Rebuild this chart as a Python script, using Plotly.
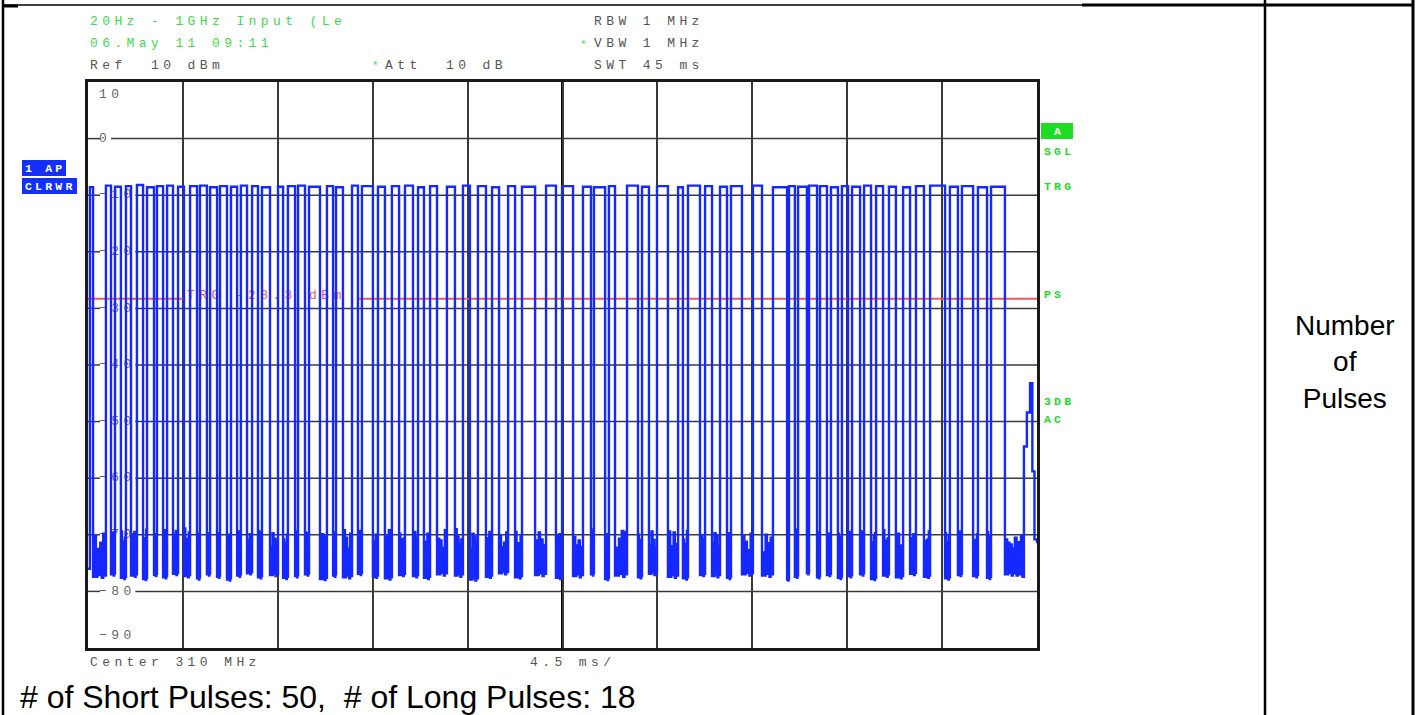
import plotly.graph_objects as go

# ---------------- data ----------------
# time axis: 10 div x 4.5 ms = 45 ms sweep ; level axis in dBm
rise_ms = [0.09, 0.85, 1.28, 1.80, 2.32, 2.80, 3.27, 3.75, 4.27, 4.84,
           5.31, 5.79, 6.26, 6.78, 7.25, 7.78, 8.25, 9.01, 9.48, 9.96,
           10.48, 11.33, 11.76, 12.52, 12.99, 13.75, 14.41, 15.03, 15.65, 16.22,
           17.02, 17.78, 18.49, 19.16, 19.92, 20.58, 21.72, 22.48, 23.47, 23.99,
           24.70, 25.56, 26.27, 26.98, 27.98, 28.45, 29.26, 29.97, 30.49, 31.53,
           32.48, 33.24, 33.67, 34.19, 34.71, 35.23, 35.75, 36.23, 36.80, 37.37,
           37.98, 38.65, 39.26, 39.93, 40.87, 41.44, 42.20, 42.82]
fall_ms = [0.24, 1.09, 1.56, 2.04, 2.61, 3.13, 3.56, 4.03, 4.55, 5.17,
           5.64, 6.12, 6.59, 7.07, 7.54, 8.06, 8.63, 9.25, 9.82, 10.29,
           11.00, 11.62, 12.09, 12.80, 13.51, 14.08, 14.75, 15.41, 15.93, 16.55,
           17.40, 18.11, 18.87, 19.49, 20.25, 21.20, 22.19, 23.00, 23.85, 24.52,
           24.99, 26.08, 26.60, 27.50, 28.21, 29.02, 29.59, 30.30, 31.01, 31.96,
           33.15, 33.52, 34.09, 34.57, 35.04, 35.56, 36.04, 36.61, 37.13, 37.70,
           38.31, 38.98, 39.64, 40.64, 41.25, 41.97, 42.63, 43.48]
top_dbm = [-8.6, -8.3, -8.5, -8.4, -8.2, -8.6, -8.4, -8.3, -8.5, -8.4,
           -8.3, -8.6, -8.4, -8.5, -8.3, -8.4, -8.6, -8.5, -8.4, -8.3,
           -8.5, -8.4, -8.6, -8.3, -8.4, -8.5, -8.4, -8.3, -8.6, -8.4,
           -8.5, -8.3, -8.4, -8.6, -8.4, -8.5, -8.3, -8.4, -8.5, -8.6,
           -8.4, -8.3, -8.5, -8.4, -8.6, -8.3, -8.4, -8.5, -8.4, -8.3,
           -8.6, -8.4, -8.5, -8.3, -8.4, -8.6, -8.4, -8.5, -8.3, -8.4,
           -8.5, -8.6, -8.4, -8.3, -8.5, -8.4, -8.6, -8.5]
noise_peak_a = [-70.2, -71.8, -69.4, -72.0, -70.6, -69.9, -71.3, -70.0, -68.9, -72.4,
                -71.1, -69.7, -72.8, -70.5, -71.6, -69.3, -72.2, -70.8, -71.4, -69.6,
                -72.6, -70.9, -69.2, -71.7, -73.0, -70.3, -69.8, -72.1, -71.2, -70.7,
                -69.0, -72.5, -71.9, -70.1, -69.5, -71.0, -72.7, -70.4, -69.1, -71.5,
                -72.3, -70.0, -71.8, -69.4, -70.8, -72.2, -71.4, -69.9, -70.2, -73.1,
                -71.0, -69.6, -72.0, -70.6, -71.7, -69.8, -70.9, -72.6, -71.3, -69.2,
                -70.1, -71.6, -72.4, -69.7, -70.5, -71.1, -69.5, -70.8]
noise_peak_b = [-72.5, -69.6, -71.2, -69.9, -72.8, -70.4, -69.2, -71.9, -70.7, -69.8,
                -71.6, -72.9, -70.0, -69.4, -70.9, -72.1, -69.7, -71.4, -70.2, -72.6,
                -69.9, -71.8, -70.5, -69.3, -71.1, -72.3, -70.8, -69.5, -72.7, -71.0,
                -70.3, -69.8, -70.6, -72.2, -71.5, -69.6, -70.2, -71.9, -72.5, -69.9,
                -70.7, -71.3, -69.4, -72.0, -71.6, -70.1, -69.7, -72.4, -71.2, -70.0,
                -72.8, -71.5, -69.9, -70.4, -72.1, -71.0, -69.5, -70.3, -71.8, -72.3,
                -69.8, -70.6, -71.1, -72.0, -69.4, -70.9, -72.5, -71.4]
noise_peak_c = [-71.4, -70.1, -72.6, -69.5, -71.0, -72.2, -70.6, -69.3, -71.8, -70.9,
                -69.7, -71.5, -70.4, -72.9, -69.9, -71.2, -70.7, -72.0, -69.4, -71.7,
                -70.2, -69.6, -72.4, -71.1, -70.0, -69.2, -71.9, -70.5, -69.8, -72.3,
                -71.6, -70.3, -69.5, -71.4, -72.8, -70.8, -69.9, -71.0, -70.6, -72.1,
                -69.3, -71.8, -70.9, -69.6, -72.5, -71.3, -70.2, -69.7, -72.7, -71.5,
                -70.4, -69.1, -71.9, -72.2, -69.8, -70.7, -71.6, -69.4, -70.1, -71.0,
                -72.6, -69.9, -70.8, -71.3, -69.6, -72.0, -70.3, -71.7]
noise_peak_d = [-69.8, -72.3, -70.5, -71.6, -69.1, -70.9, -72.0, -71.2, -69.6, -70.4,
                -72.5, -69.9, -71.7, -70.2, -72.8, -69.5, -71.1, -70.0, -72.4, -69.7,
                -71.3, -72.1, -69.8, -70.7, -71.9, -69.4, -70.6, -72.6, -71.0, -69.2,
                -70.8, -71.4, -72.7, -69.6, -70.3, -71.8, -69.9, -72.2, -70.5, -71.1,
                -69.5, -70.9, -72.3, -71.6, -69.3, -70.7, -72.0, -71.2, -69.8, -70.5,
                -71.4, -72.9, -70.1, -69.6, -71.8, -70.4, -72.5, -71.0, -69.7, -70.6,
                -71.9, -72.1, -69.4, -70.2, -71.5, -69.9, -70.7, -72.4]
noise_low = [-77.4, -77.0, -77.6, -77.2, -77.8, -77.1, -77.5, -76.9, -77.3, -77.7,
             -77.0, -77.4, -77.9, -77.2, -76.8, -77.5, -77.1, -77.6, -77.3, -77.0,
             -77.8, -77.2, -77.5, -76.9, -77.4, -77.7, -77.1, -77.3, -77.6, -77.0,
             -77.2, -77.9, -77.4, -76.8, -77.5, -77.1, -77.6, -77.3, -77.0, -77.8,
             -77.2, -77.5, -76.9, -77.4, -77.7, -77.1, -77.3, -77.6, -77.0, -77.2,
             -77.9, -77.4, -76.8, -77.5, -77.1, -77.6, -77.3, -77.0, -77.8, -77.2,
             -77.5, -76.9, -77.4, -77.7, -77.1, -77.3, -77.6, -77.0]
start_dbm = -76.0
tail_ms = [43.95, 44.03, 44.10, 44.17, 44.24, 44.31, 44.38, 44.52, 44.67, 44.78, 44.88, 45.0]
tail_dbm = [-70.5, -77.2, -71.3, -77.0, -70.2, -77.4, -54.4, -48.4, -43.2, -58.8, -70.8, -71.5]

trigger_dbm = -28.3
y_ticks = [10, 0, -10, -20, -30, -40, -50, -60, -70, -80, -90]
tick_labels = ["10", "0", "\u221210", "\u221220", "\u221230", "\u221240",
               "\u221250", "\u221260", "\u221270", "\u221280", "\u221290"]

# ---------------- build trace ----------------
t_pts, v_pts = [0.0], [start_dbm]
n = len(rise_ms)
fracs = [0.10, 0.22, 0.33, 0.45, 0.56, 0.68, 0.79, 0.91]
for i in range(n):
    t_pts += [rise_ms[i], fall_ms[i]]
    v_pts += [top_dbm[i], noise_low[i]]
    nxt = rise_ms[i + 1] if i + 1 < n else tail_ms[0]
    g = nxt - fall_ms[i]
    lvl = [noise_peak_a[i], noise_low[i], noise_peak_b[i], noise_low[i] + 0.3,
           noise_peak_c[i], noise_low[i] - 0.2, noise_peak_d[i], noise_low[i] + 0.2]
    t_pts += [fall_ms[i] + f * g for f in fracs]
    v_pts += lvl
t_pts += tail_ms
v_pts += tail_dbm

# ---------------- geometry helpers (layout only) ----------------
W, H = 1422, 715
PL, PR, PT, PB = 88, 1037, 82, 648
X0, X1, Y0, Y1 = 0.0, 45.0, -90.0, 10.0


def px(x):
    return (x - PL) / (PR - PL)


def py(y):
    return (PB - y) / (PB - PT)


def dx(x):  # pixel -> data time
    return X0 + (x - PL) / (PR - PL) * (X1 - X0)


def dy(y):
    return Y1 - (y - PT) / (PB - PT) * (Y1 - Y0)


MONO = "Liberation Mono"
GRAY = "#555555"
GREEN = "#3fd94c"
SGREEN = "#1fd82c"
BLUE = "#1428ff"
RED = "#ef5b5b"
LS = 4.4

annotations = []
shapes = []


def sp(s, ls):
    return f'<span style="letter-spacing:{ls}px">{s}</span>' if ls else s


def txt(s, x, y, color, size=13, family=MONO, ls=LS, xanchor="left", bold=False):
    s2 = sp(s, ls)
    if bold:
        s2 = "<b>" + s2 + "</b>"
    annotations.append(dict(text=s2, x=px(x), y=py(y), xref="paper", yref="paper",
                            xanchor=xanchor, yanchor="middle", showarrow=False,
                            borderpad=0, font=dict(family=family, size=size, color=color)))


def pline(x0, y0, x1, y1, w=2, c="black"):
    shapes.append(dict(type="line", xref="paper", yref="paper",
                       x0=px(x0), y0=py(y0), x1=px(x1), y1=py(y1),
                       line=dict(color=c, width=w), layer="above"))


def prect(x0, y0, x1, y1, c):
    shapes.append(dict(type="rect", xref="paper", yref="paper",
                       x0=px(x0), y0=py(y0), x1=px(x1), y1=py(y1),
                       fillcolor=c, line=dict(width=0), layer="above"))


fig = go.Figure()

# tick labels inside the plot (under the trace)
lab_x = dx(99)
lab_y = []
for v in y_ticks:
    if v == 10:
        lab_y.append(dy(95))
    elif v == -90:
        lab_y.append(dy(636))
    else:
        lab_y.append(v)
fig.add_trace(go.Scatter(x=[lab_x] * len(y_ticks), y=lab_y, mode="text",
                         text=[sp(t, LS) for t in tick_labels],
                         textposition="middle right",
                         textfont=dict(family=MONO, size=13, color="#666666"),
                         hoverinfo="skip", showlegend=False))

# horizontal grid lines broken around the labels
for v, lab in zip(y_ticks, tick_labels):
    if v in (10, -90):
        continue
    gap_end = dx(101 + 12.1 * len(lab) - 2)
    for a, b in ((X0, dx(100)), (gap_end, X1)):
        shapes.append(dict(type="line", xref="x", yref="y", x0=a, x1=b, y0=v, y1=v,
                           line=dict(color="#3a3a3a", width=1.5), layer="below"))
# thick centre division
shapes.append(dict(type="line", xref="x", yref="y", x0=22.5, x1=22.5, y0=Y0, y1=Y1,
                   line=dict(color="black", width=3), layer="below"))

# trigger line + label
fig.add_trace(go.Scatter(x=[X0, dx(185), None, dx(357), X1],
                         y=[trigger_dbm, trigger_dbm, None, trigger_dbm, trigger_dbm],
                         mode="lines", line=dict(color=RED, width=2),
                         hoverinfo="skip", showlegend=False))
fig.add_trace(go.Scatter(x=[dx(187)], y=[dy(296)], mode="text",
                         text=[sp("TRG -28.3 dBm", LS)], textposition="middle right",
                         textfont=dict(family=MONO, size=13, color=RED),
                         hoverinfo="skip", showlegend=False))

# measured trace
fig.add_trace(go.Scatter(x=t_pts, y=v_pts, mode="lines", line_shape="hv",
                         line=dict(color=BLUE, width=2.4),
                         hoverinfo="skip", showlegend=False))

# ---------------- text around the graticule ----------------
txt("20Hz - 1GHz Input (Le", 89, 22, GREEN)
txt("06.May 11 09:11", 89, 44, GREEN)
txt("Ref  10 dBm", 89, 65, GRAY)
txt("*", 371, 66, GREEN, size=11, ls=0)
txt("Att  10 dB", 384, 65, GRAY)
txt("RBW 1 MHz", 593, 22, GRAY)
txt("*", 579, 45, GREEN, size=11, ls=0)
txt("VBW 1 MHz", 593, 44, GRAY)
txt("SWT 45 ms", 593, 65, GRAY)
txt("Center 310 MHz", 89, 662, GRAY)
txt("4.5 ms/", 529, 662, GRAY)

# left status boxes
prect(22, 160, 66, 176, "#1430ff")
prect(22, 178, 77, 194, "#1430ff")
txt("1 AP", 24, 168.5, "white", size=11.5, ls=3.2, bold=True)
txt("CLRWR", 24, 186.5, "white", size=11.5, ls=3.2, bold=True)

# right status labels
prect(1041, 123, 1073, 139, "#1ddc22")
txt("A", 1057, 131.5, "white", size=11.5, ls=0, bold=True, xanchor="center")
for s, yy in (("SGL", 151), ("TRG", 186), ("PS", 294), ("3DB", 401), ("AC", 419)):
    txt(s, 1043, yy, SGREEN, size=11.5, ls=3.2, bold=True)

# document text
txt("# of Short Pulses: 50,  # of Long Pulses: 18", 19, 697, "black",
    size=32, family="Liberation Sans", ls=0)
annotations.append(dict(text="Number<br>of<br>Pulses", x=px(1345), y=py(362),
                        xref="paper", yref="paper", xanchor="center", yanchor="middle",
                        showarrow=False, align="center",
                        font=dict(family="Liberation Sans", size=28, color="black")))

# table frame
pline(3, 0, 3, 715, w=2.5)
pline(3, 5, 1082, 5, w=1.5)
pline(4, 6, 18, 6, w=3)
pline(1082, 5, 1413, 5, w=3)
pline(1265, 0, 1265, 715, w=2.5)
pline(1413, 0, 1413, 715, w=3)

fig.update_layout(
    width=W, height=H,
    margin=dict(l=PL, r=W - PR, t=PT, b=H - PB, pad=0),
    paper_bgcolor="white", plot_bgcolor="white",
    showlegend=False,
    annotations=annotations, shapes=shapes,
    xaxis=dict(range=[X0, X1], showgrid=True, dtick=4.5, tick0=0,
               gridcolor="#3a3a3a", gridwidth=1.5, zeroline=False,
               showticklabels=False, ticks="", showline=True, mirror=True,
               linecolor="#1a1a1a", linewidth=3, fixedrange=True),
    yaxis=dict(range=[Y0, Y1], showgrid=False, zeroline=False,
               showticklabels=False, ticks="", showline=True, mirror=True,
               linecolor="#1a1a1a", linewidth=3, fixedrange=True),
)

fig.write_html("out.html", config={"displayModeBar": False},
               post_script="document.body.style.margin='0px';document.body.style.overflow='hidden';")
